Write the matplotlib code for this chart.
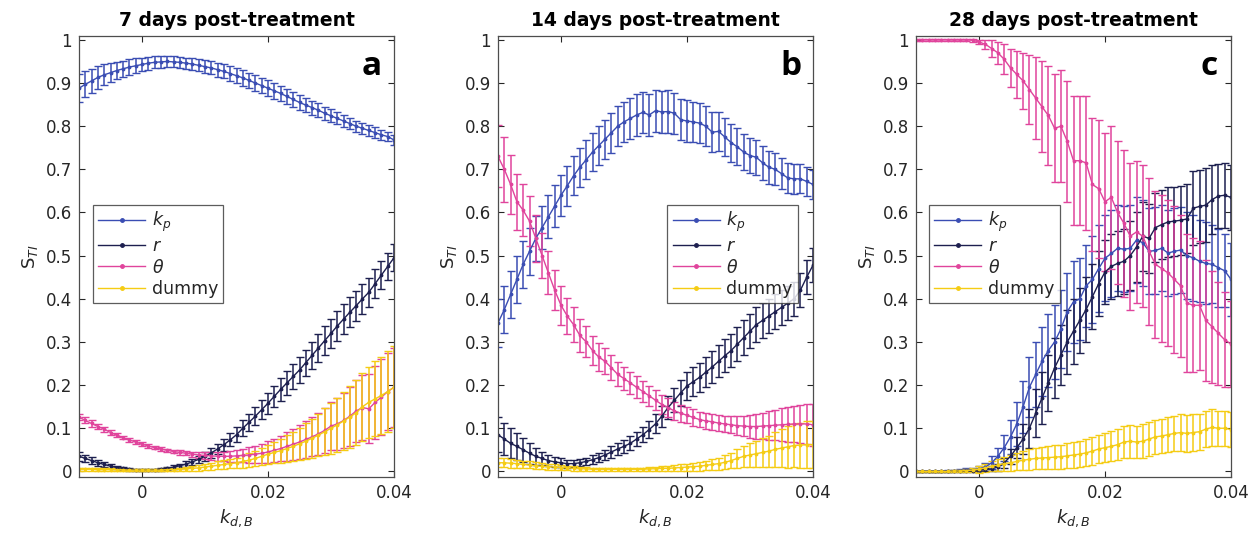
import numpy as np
import matplotlib
matplotlib.use("Agg")
import matplotlib.pyplot as plt
from matplotlib.lines import Line2D
from matplotlib.ticker import FuncFormatter, FixedLocator

# ---------------- data ----------------
kd = np.linspace(-0.01, 0.04, 51)

titles = ["7 days post-treatment", "14 days post-treatment", "28 days post-treatment"]
letters = ["a", "b", "c"]
labels = ["$k_p$", "$r$", r"$\theta$", "dummy"]

# panel a (7 days)
kp_a = [0.888, 0.897, 0.905, 0.913, 0.919, 0.924, 0.929, 0.933, 0.937, 0.940,
        0.943, 0.946, 0.948, 0.949, 0.950, 0.949, 0.948, 0.946, 0.944, 0.941,
        0.938, 0.935, 0.931, 0.927, 0.922, 0.917, 0.912, 0.906, 0.900, 0.894,
        0.888, 0.882, 0.876, 0.869, 0.862, 0.855, 0.849, 0.843, 0.837, 0.830,
        0.824, 0.818, 0.812, 0.806, 0.800, 0.795, 0.790, 0.785, 0.780, 0.776, 0.768]
kp_a_err = [0.032, 0.030, 0.028, 0.026, 0.024, 0.022, 0.020, 0.019, 0.018, 0.017,
            0.016, 0.015, 0.014, 0.014, 0.013, 0.013, 0.013, 0.013, 0.014, 0.014,
            0.015, 0.015, 0.016, 0.016, 0.017, 0.017, 0.018, 0.018, 0.018, 0.018,
            0.018, 0.018, 0.018, 0.018, 0.017, 0.017, 0.017, 0.016, 0.016, 0.015,
            0.015, 0.014, 0.014, 0.013, 0.013, 0.012, 0.012, 0.012, 0.011, 0.011, 0.011]
r_a = [0.035, 0.030, 0.025, 0.020, 0.016, 0.012, 0.009, 0.007, 0.005, 0.004,
       0.003, 0.003, 0.004, 0.005, 0.007, 0.010, 0.013, 0.017, 0.022, 0.028,
       0.035, 0.043, 0.052, 0.062, 0.073, 0.085, 0.100, 0.114, 0.128, 0.143,
       0.158, 0.174, 0.190, 0.205, 0.220, 0.235, 0.252, 0.269, 0.286, 0.303,
       0.320, 0.337, 0.353, 0.369, 0.384, 0.400, 0.415, 0.435, 0.455, 0.475, 0.495]
r_a_err = [0.010, 0.009, 0.008, 0.007, 0.006, 0.005, 0.004, 0.003, 0.003, 0.002,
           0.002, 0.002, 0.002, 0.003, 0.003, 0.004, 0.005, 0.006, 0.007, 0.008,
           0.010, 0.011, 0.012, 0.014, 0.015, 0.017, 0.018, 0.020, 0.021, 0.022,
           0.024, 0.025, 0.026, 0.027, 0.028, 0.029, 0.030, 0.031, 0.032, 0.033,
           0.034, 0.034, 0.035, 0.035, 0.035, 0.035, 0.034, 0.034, 0.033, 0.032, 0.031]
th_a = [0.126, 0.118, 0.111, 0.104, 0.098, 0.090, 0.084, 0.078, 0.073, 0.068,
        0.063, 0.059, 0.055, 0.052, 0.049, 0.046, 0.044, 0.042, 0.040, 0.038,
        0.037, 0.036, 0.035, 0.035, 0.035, 0.036, 0.037, 0.038, 0.040, 0.042,
        0.045, 0.049, 0.053, 0.058, 0.063, 0.068, 0.074, 0.080, 0.087, 0.095,
        0.105, 0.110, 0.118, 0.128, 0.140, 0.148, 0.145, 0.160, 0.172, 0.185, 0.195]
th_a_err = [0.008, 0.007, 0.007, 0.006, 0.006, 0.005, 0.005, 0.004, 0.004, 0.004,
            0.004, 0.004, 0.004, 0.004, 0.004, 0.004, 0.005, 0.005, 0.006, 0.007,
            0.008, 0.009, 0.010, 0.011, 0.013, 0.014, 0.016, 0.018, 0.020, 0.022,
            0.025, 0.027, 0.030, 0.033, 0.036, 0.039, 0.042, 0.045, 0.048, 0.052,
            0.056, 0.060, 0.064, 0.068, 0.072, 0.076, 0.080, 0.084, 0.088, 0.090, 0.092]
du_a = [0.005, 0.005, 0.005, 0.004, 0.004, 0.004, 0.004, 0.003, 0.003, 0.003,
        0.003, 0.003, 0.003, 0.003, 0.004, 0.004, 0.005, 0.006, 0.007, 0.008,
        0.010, 0.012, 0.014, 0.016, 0.018, 0.020, 0.023, 0.026, 0.030, 0.035,
        0.040, 0.044, 0.048, 0.053, 0.058, 0.064, 0.070, 0.077, 0.084, 0.092,
        0.100, 0.108, 0.117, 0.126, 0.136, 0.150, 0.160, 0.168, 0.176, 0.185, 0.195]
du_a_err = [0.004, 0.004, 0.003, 0.003, 0.003, 0.003, 0.003, 0.003, 0.003, 0.003,
            0.003, 0.003, 0.003, 0.003, 0.003, 0.004, 0.004, 0.005, 0.005, 0.006,
            0.007, 0.008, 0.009, 0.010, 0.011, 0.012, 0.014, 0.016, 0.018, 0.020,
            0.022, 0.025, 0.028, 0.031, 0.034, 0.037, 0.041, 0.045, 0.049, 0.054,
            0.059, 0.063, 0.067, 0.071, 0.075, 0.079, 0.083, 0.087, 0.090, 0.093, 0.095]

# panel b (14 days)
kp_b = [0.344, 0.375, 0.410, 0.445, 0.480, 0.510, 0.540, 0.565, 0.590, 0.615,
        0.640, 0.662, 0.685, 0.705, 0.722, 0.740, 0.755, 0.770, 0.785, 0.800,
        0.810, 0.818, 0.826, 0.832, 0.826, 0.836, 0.833, 0.834, 0.830, 0.815,
        0.812, 0.810, 0.807, 0.800, 0.786, 0.788, 0.775, 0.762, 0.752, 0.740,
        0.732, 0.728, 0.715, 0.705, 0.700, 0.690, 0.680, 0.678, 0.678, 0.672, 0.665]
kp_b_err = [0.055, 0.055, 0.055, 0.055, 0.055, 0.055, 0.052, 0.050, 0.050, 0.048,
            0.047, 0.046, 0.045, 0.045, 0.045, 0.045, 0.045, 0.045, 0.046, 0.046,
            0.047, 0.047, 0.048, 0.048, 0.048, 0.049, 0.049, 0.049, 0.048, 0.048,
            0.048, 0.047, 0.047, 0.046, 0.046, 0.045, 0.045, 0.044, 0.043, 0.042,
            0.041, 0.040, 0.039, 0.038, 0.037, 0.036, 0.035, 0.035, 0.034, 0.034, 0.033]
r_b = [0.085, 0.075, 0.065, 0.058, 0.050, 0.042, 0.035, 0.030, 0.025, 0.022,
       0.020, 0.018, 0.018, 0.020, 0.023, 0.027, 0.032, 0.038, 0.045, 0.052,
       0.058, 0.065, 0.075, 0.085, 0.097, 0.110, 0.128, 0.148, 0.165, 0.182,
       0.198, 0.208, 0.218, 0.230, 0.242, 0.255, 0.268, 0.280, 0.295, 0.310,
       0.325, 0.340, 0.350, 0.360, 0.370, 0.380, 0.390, 0.400, 0.420, 0.450, 0.478]
r_b_err = [0.040, 0.038, 0.035, 0.032, 0.028, 0.024, 0.020, 0.016, 0.013, 0.011,
           0.010, 0.009, 0.008, 0.008, 0.009, 0.010, 0.011, 0.012, 0.013, 0.014,
           0.015, 0.016, 0.017, 0.018, 0.020, 0.022, 0.024, 0.026, 0.028, 0.030,
           0.032, 0.033, 0.034, 0.035, 0.036, 0.037, 0.038, 0.039, 0.040, 0.040,
           0.040, 0.040, 0.040, 0.040, 0.040, 0.040, 0.040, 0.040, 0.040, 0.040, 0.040]
th_b = [0.730, 0.700, 0.665, 0.625, 0.605, 0.580, 0.540, 0.500, 0.460, 0.420,
        0.385, 0.360, 0.340, 0.315, 0.300, 0.280, 0.265, 0.255, 0.240, 0.225,
        0.215, 0.205, 0.195, 0.185, 0.175, 0.165, 0.155, 0.148, 0.140, 0.135,
        0.130, 0.125, 0.120, 0.117, 0.115, 0.112, 0.110, 0.108, 0.106, 0.105,
        0.104, 0.104, 0.105, 0.106, 0.107, 0.108, 0.109, 0.110, 0.110, 0.110, 0.108]
th_b_err = [0.072, 0.075, 0.068, 0.065, 0.060, 0.058, 0.055, 0.052, 0.050, 0.047,
            0.045, 0.042, 0.040, 0.038, 0.036, 0.034, 0.032, 0.030, 0.029, 0.028,
            0.027, 0.026, 0.025, 0.024, 0.024, 0.023, 0.022, 0.021, 0.020, 0.020,
            0.019, 0.019, 0.018, 0.018, 0.018, 0.018, 0.019, 0.020, 0.022, 0.024,
            0.026, 0.028, 0.030, 0.033, 0.035, 0.038, 0.040, 0.042, 0.044, 0.046, 0.048]
du_b = [0.020, 0.020, 0.019, 0.018, 0.016, 0.015, 0.013, 0.012, 0.011, 0.010,
        0.009, 0.008, 0.007, 0.006, 0.006, 0.005, 0.005, 0.005, 0.005, 0.005,
        0.005, 0.005, 0.005, 0.005, 0.006, 0.006, 0.007, 0.007, 0.008, 0.009,
        0.010, 0.011, 0.012, 0.014, 0.016, 0.018, 0.021, 0.025, 0.030, 0.035,
        0.038, 0.041, 0.044, 0.047, 0.051, 0.054, 0.057, 0.060, 0.061, 0.062, 0.062]
du_b_err = [0.010, 0.010, 0.010, 0.009, 0.009, 0.008, 0.008, 0.007, 0.007, 0.006,
            0.006, 0.005, 0.005, 0.004, 0.004, 0.004, 0.004, 0.004, 0.004, 0.004,
            0.004, 0.004, 0.004, 0.004, 0.004, 0.005, 0.005, 0.006, 0.006, 0.007,
            0.008, 0.009, 0.010, 0.011, 0.012, 0.014, 0.016, 0.018, 0.021, 0.024,
            0.027, 0.030, 0.033, 0.036, 0.040, 0.044, 0.048, 0.050, 0.052, 0.054, 0.055]

# panel c (28 days)
kp_c = [0.000, 0.000, 0.000, 0.000, 0.000, 0.001, 0.001, 0.002, 0.003, 0.004,
        0.006, 0.010, 0.020, 0.035, 0.055, 0.080, 0.110, 0.150, 0.195, 0.225,
        0.255, 0.280, 0.300, 0.330, 0.370, 0.393, 0.400, 0.430, 0.445, 0.470,
        0.494, 0.505, 0.517, 0.515, 0.517, 0.536, 0.530, 0.510, 0.512, 0.517,
        0.506, 0.510, 0.513, 0.500, 0.495, 0.487, 0.482, 0.480, 0.472, 0.465, 0.445]
kp_c_err = [0.001, 0.001, 0.001, 0.001, 0.001, 0.002, 0.002, 0.003, 0.004, 0.005,
            0.007, 0.010, 0.015, 0.020, 0.030, 0.040, 0.050, 0.060, 0.070, 0.075,
            0.080, 0.085, 0.085, 0.090, 0.090, 0.095, 0.095, 0.095, 0.100, 0.100,
            0.100, 0.100, 0.100, 0.100, 0.100, 0.100, 0.100, 0.100, 0.100, 0.100,
            0.100, 0.100, 0.100, 0.100, 0.100, 0.095, 0.095, 0.090, 0.090, 0.085, 0.085]
r_c = [0.000, 0.000, 0.000, 0.000, 0.000, 0.000, 0.001, 0.001, 0.002, 0.002,
       0.003, 0.004, 0.006, 0.010, 0.020, 0.035, 0.055, 0.075, 0.100, 0.135,
       0.170, 0.205, 0.240, 0.270, 0.300, 0.325, 0.350, 0.375, 0.405, 0.435,
       0.462, 0.475, 0.482, 0.487, 0.500, 0.520, 0.545, 0.540, 0.565, 0.572,
       0.578, 0.580, 0.582, 0.585, 0.610, 0.614, 0.617, 0.630, 0.638, 0.640, 0.635]
r_c_err = [0.001, 0.001, 0.001, 0.001, 0.001, 0.001, 0.001, 0.001, 0.002, 0.002,
           0.003, 0.004, 0.006, 0.008, 0.012, 0.018, 0.025, 0.035, 0.045, 0.055,
           0.060, 0.065, 0.070, 0.070, 0.075, 0.075, 0.075, 0.075, 0.075, 0.075,
           0.075, 0.075, 0.075, 0.075, 0.080, 0.080, 0.080, 0.080, 0.080, 0.080,
           0.080, 0.080, 0.080, 0.080, 0.085, 0.085, 0.085, 0.080, 0.075, 0.075, 0.075]
th_c = [1.000, 1.000, 1.000, 1.000, 1.000, 1.000, 1.000, 1.000, 1.000, 0.999,
        0.995, 0.990, 0.980, 0.970, 0.955, 0.935, 0.920, 0.905, 0.885, 0.865,
        0.845, 0.825, 0.795, 0.800, 0.765, 0.720, 0.720, 0.715, 0.665, 0.655,
        0.625, 0.635, 0.600, 0.575, 0.545, 0.555, 0.545, 0.510, 0.480, 0.470,
        0.460, 0.445, 0.430, 0.390, 0.385, 0.385, 0.350, 0.335, 0.320, 0.305, 0.295]
th_c_err = [0.002, 0.002, 0.002, 0.002, 0.002, 0.002, 0.002, 0.002, 0.002, 0.003,
            0.005, 0.010, 0.020, 0.025, 0.035, 0.045, 0.055, 0.065, 0.080, 0.095,
            0.105, 0.115, 0.125, 0.130, 0.140, 0.150, 0.150, 0.155, 0.155, 0.160,
            0.160, 0.165, 0.165, 0.170, 0.170, 0.165, 0.165, 0.170, 0.170, 0.170,
            0.170, 0.170, 0.165, 0.160, 0.155, 0.150, 0.140, 0.130, 0.120, 0.110, 0.100]
du_c = [0.000, 0.000, 0.000, 0.000, 0.000, 0.000, 0.001, 0.001, 0.002, 0.003,
        0.005, 0.008, 0.012, 0.015, 0.018, 0.020, 0.023, 0.026, 0.028, 0.030,
        0.031, 0.032, 0.033, 0.034, 0.036, 0.038, 0.040, 0.043, 0.047, 0.052,
        0.055, 0.058, 0.062, 0.068, 0.070, 0.068, 0.070, 0.075, 0.080, 0.082,
        0.085, 0.088, 0.090, 0.088, 0.090, 0.092, 0.098, 0.102, 0.100, 0.100, 0.097]
du_c_err = [0.001, 0.001, 0.001, 0.001, 0.001, 0.001, 0.002, 0.002, 0.003, 0.005,
            0.008, 0.010, 0.012, 0.014, 0.016, 0.018, 0.020, 0.022, 0.024, 0.025,
            0.026, 0.027, 0.028, 0.028, 0.029, 0.030, 0.030, 0.031, 0.032, 0.033,
            0.034, 0.035, 0.036, 0.037, 0.038, 0.038, 0.039, 0.040, 0.040, 0.040,
            0.041, 0.041, 0.042, 0.042, 0.042, 0.042, 0.042, 0.042, 0.041, 0.040, 0.040]

panels = [
    [(kp_a, kp_a_err), (r_a, r_a_err), (th_a, th_a_err), (du_a, du_a_err)],
    [(kp_b, kp_b_err), (r_b, r_b_err), (th_b, th_b_err), (du_b, du_b_err)],
    [(kp_c, kp_c_err), (r_c, r_c_err), (th_c, th_c_err), (du_c, du_c_err)],
]

colors = ["#3a4db3", "#1d1f4f", "#e0449c", "#f5cc14"]

# ---------------- figure ----------------
plt.rcParams["font.family"] = ["DejaVu Sans"]
plt.rcParams["mathtext.fontset"] = "dejavusans"

fig = plt.figure(figsize=(12.57, 5.37), dpi=100)
lefts = [79, 498, 916]
legend_x = [0.044, 0.538, 0.041]
ax_w = 315 / 1257
ax_b = 1 - 477 / 537
ax_h = (477 - 36) / 537
txt_col = "#262626"

for i, left in enumerate(lefts):
    ax = fig.add_axes([left / 1257, ax_b, ax_w, ax_h])
    for (vals, errs), col in zip(panels[i], colors):
        ax.errorbar(kd, vals, yerr=errs, color=col, lw=1.0, elinewidth=1.1,
                    capsize=3.2, capthick=1.0, marker=".", markersize=3.5)
    ax.set_xlim(-0.01, 0.04)
    ax.set_ylim(-0.013, 1.009)
    ax.xaxis.set_major_locator(FixedLocator([0, 0.02, 0.04]))
    ax.yaxis.set_major_locator(FixedLocator(np.round(np.arange(0, 1.01, 0.1), 1)))
    fmt = FuncFormatter(lambda v, p: "%g" % round(v, 3))
    ax.xaxis.set_major_formatter(fmt)
    ax.yaxis.set_major_formatter(fmt)
    ax.tick_params(direction="in", length=4, width=0.8, top=True, right=True,
                   labelsize=12, colors=txt_col, pad=5)
    for s in ax.spines.values():
        s.set_color("#4d4d4d")
        s.set_linewidth(0.9)
    ax.set_title(titles[i], fontsize=13.5, fontweight="bold", pad=7, color="black")
    ax.set_ylabel(r"$\mathregular{S}_{\mathit{TI}}$", fontsize=13, color=txt_col, labelpad=4)
    ax.set_xlabel(r"$\mathit{k}_{\mathit{d,B}}$", fontsize=13, color=txt_col, labelpad=4)
    ax.text(0.93, 0.93, letters[i], transform=ax.transAxes, fontsize=24,
            fontweight="bold", family="Open Sans", ha="center", va="center")
    handles = [Line2D([0], [0], color=c, lw=1.0, marker=".", markersize=5) for c in colors]
    leg = ax.legend(handles, labels, loc="upper left", bbox_to_anchor=(legend_x[i], 0.617),
                    borderaxespad=0, fontsize=12.5, frameon=True, fancybox=False,
                    edgecolor="#333333", handlelength=2.7, handletextpad=0.4,
                    labelspacing=0.18, borderpad=0.3, numpoints=1)
    leg.get_frame().set_linewidth(0.9)
    for t in leg.get_texts():
        t.set_color(txt_col)

fig.savefig("out.png", dpi=100)
